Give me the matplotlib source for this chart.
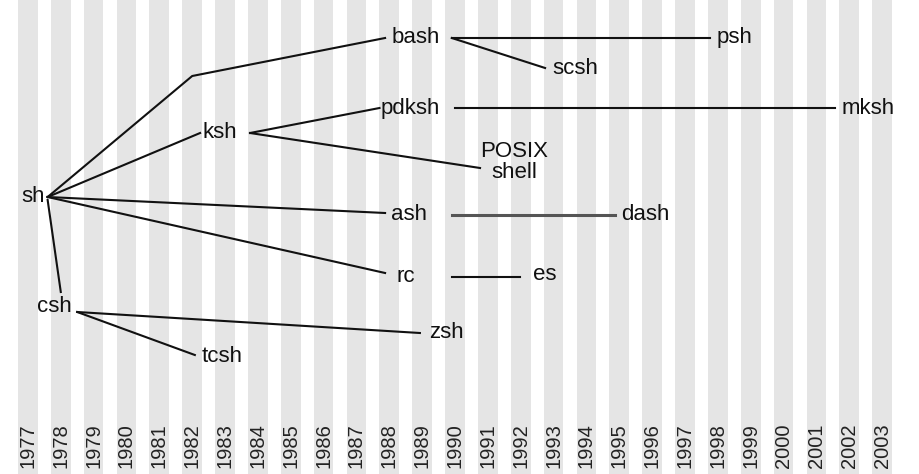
import matplotlib
matplotlib.use("Agg")
import matplotlib.pyplot as plt

years = list(range(1977, 2004))
# node labels: name, year position, vertical position (0 = top)
node_names = ["sh", "csh", "tcsh", "ksh", "bash", "psh", "scsh", "pdksh", "mksh",
              "POSIX\nshell", "ash", "dash", "rc", "es", "zsh"]
node_x = [1977.15, 1977.82, 1982.9, 1982.85, 1988.8, 1998.5, 1993.65, 1988.63, 2002.57,
          1991.8, 1988.6, 1995.8, 1988.5, 1992.74, 1989.75]
node_y = [197, 307, 357, 133, 37, 37, 68, 108, 108, 162, 215, 215, 277, 275, 333]

# edges as polylines (year, vertical position)
edges = [
    [(1977.6, 197), (1982.0, 76), (1987.87, 38)],
    [(1989.9, 38), (1997.76, 38)],
    [(1989.9, 38), (1992.74, 68)],
    [(1977.6, 197), (1982.24, 133)],
    [(1983.76, 133), (1987.7, 108)],
    [(1983.76, 133), (1990.76, 168)],
    [(1990.0, 108), (2001.57, 108)],
    [(1977.6, 197), (1987.87, 213)],
    [(1977.6, 197), (1987.87, 273)],
    [(1989.9, 277), (1991.98, 277)],
    [(1977.6, 200), (1978.0, 292)],
    [(1978.5, 312), (1988.93, 333)],
    [(1978.5, 312), (1982.08, 355)],
]
gray_edges = [[(1989.9, 215), (1994.87, 215)]]

fig = plt.figure(figsize=(9.19, 4.74), dpi=100)
ax = fig.add_axes([0, 0, 1, 1])
ax.set_xlim(1976.15, 2004.12)
ax.set_ylim(474, 0)
ax.axis("off")
plt.rcParams["font.family"] = ["Liberation Sans", "DejaVu Sans"]

for y in years:
    ax.axvspan(y - 0.3, y + 0.3, color="#e5e5e5", lw=0, zorder=0)
    ax.text(y, 468, str(y), rotation=90, ha="center", va="bottom",
            fontsize=14.5, color="#222222", family=["Liberation Sans"])

for e in edges:
    xs, ys = zip(*e)
    ax.plot(xs, ys, color="#111111", lw=1.5, zorder=2)
for e in gray_edges:
    xs, ys = zip(*e)
    ax.plot(xs, ys, color="#555555", lw=2.2, zorder=2)

for n, x, y in zip(node_names, node_x, node_y):
    ax.text(x, y, n, ha="center", va="center", fontsize=16, color="#111111",
            family=["Liberation Sans"], linespacing=0.95, zorder=3)

fig.savefig("out.png", dpi=100)
